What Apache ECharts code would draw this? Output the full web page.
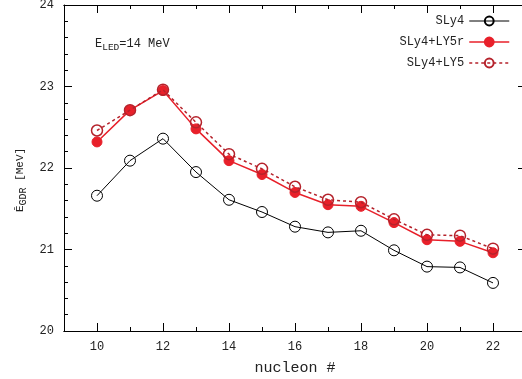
<!DOCTYPE html>
<html>
<head>
<meta charset="utf-8">
<script src="https://cdn.jsdelivr.net/npm/echarts@6/dist/echarts.min.js"></script>
<style>html,body{margin:0;padding:0;background:#fff;}#c{width:522px;height:379px;}</style>
</head>
<body>
<div id="c"></div>
<script>
var nucleons = [10, 11, 12, 13, 14, 15, 16, 17, 18, 19, 20, 21, 22];
var sly4     = [21.66, 22.09, 22.36, 21.95, 21.61, 21.46, 21.28, 21.21, 21.23, 20.99, 20.79, 20.78, 20.59];
var sly4ly5r = [22.32, 22.71, 22.95, 22.48, 22.09, 21.92, 21.70, 21.55, 21.53, 21.33, 21.12, 21.10, 20.96];
var sly4ly5  = [22.46, 22.71, 22.96, 22.56, 22.17, 21.99, 21.77, 21.61, 21.58, 21.37, 21.18, 21.17, 21.01];
var xTickLabels = [10, 12, 14, 16, 18, 20, 22];
var seriesNames = ['SLy4', 'SLy4+LY5r', 'SLy4+LY5'];

function pairs(arr){ return nucleons.map(function(x,i){ return [x, arr[i]]; }); }

var FONT = '"Liberation Mono", "DejaVu Sans Mono", monospace';
var chart = echarts.init(document.getElementById('c'), null, {renderer: 'canvas'});

function xAx(pos, major, withLabel) {
  var a = {
    type: 'value', min: 9, max: 23, interval: 1, position: pos,
    axisLine: {show: true, onZero: false, lineStyle: {color: '#000', width: 1}},
    splitLine: {show: false},
    axisTick: {show: true, inside: true, length: major ? 8 : 4, lineStyle: {color: '#000'}},
    axisLabel: {show: false}
  };
  if (major) {
    a.axisTick.customValues = xTickLabels;
  }
  if (withLabel) {
    a.axisLabel = {show: true, customValues: xTickLabels, color: '#222', fontFamily: FONT, fontSize: 12, margin: 10};
    a.name = 'nucleon #';
    a.nameLocation = 'middle';
    a.nameGap = 30;
    a.nameTextStyle = {color: '#222', fontFamily: FONT, fontSize: 15};
  }
  return a;
}
function yAx(pos, withLabel) {
  return {
    type: 'value', min: 20, max: 24, interval: 1, position: pos,
    axisLine: {show: true, onZero: false, lineStyle: {color: '#000', width: 1}},
    splitLine: {show: false},
    axisTick: {show: true, inside: true, length: 8, lineStyle: {color: '#000'}},
    minorTick: {show: true, splitNumber: 5, length: 4, lineStyle: {color: '#000'}},
    axisLabel: withLabel ? {color: '#222', fontFamily: FONT, fontSize: 12, margin: 10} : {show: false}
  };
}

chart.setOption({
  animation: false,
  backgroundColor: '#fff',
  grid: {left: 64, top: 5, width: 462, height: 326, containLabel: false, outerBoundsMode: 'none'},
  xAxis: [xAx('bottom', false, true), xAx('bottom', true, false), xAx('top', false, false), xAx('top', true, false)],
  yAxis: [yAx('left', true), yAx('right', false)],
  legend: {
    data: [
      {name: 'SLy4', lineStyle: {width: 1}},
      {name: 'SLy4+LY5r', lineStyle: {width: 1.5}},
      {name: 'SLy4+LY5', lineStyle: {width: 1.5}}
    ],
    orient: 'vertical',
    right: 7, top: 10,
    align: 'right',
    itemGap: 9,
    itemWidth: 40, itemHeight: 11,
    textStyle: {fontFamily: FONT, fontSize: 12, color: '#222'}
  },
  graphic: [
    {
      type: 'text', left: 95, top: 38,
      style: {
        rich: {
          b: {fontFamily: FONT, fontSize: 12, fill: '#222'},
          s: {fontFamily: FONT, fontSize: 9.5, fill: '#222', padding: [7, 0, 0, 0]}
        },
        text: '{b|E}{s|LED}{b|=14 MeV}'
      }
    },
    {
      type: 'text', x: 20, y: 180, rotation: Math.PI / 2,
      style: {
        rich: {
          b: {fontFamily: FONT, fontSize: 11, fill: '#222'},
          s: {fontFamily: FONT, fontSize: 10, fill: '#222', padding: [7, 0, 0, 0]}
        },
        text: '{b|\u0112}{s|GDR}{b| [MeV]}',
        align: 'center', verticalAlign: 'middle'
      }
    }
  ],
  series: [
    {
      name: 'SLy4', type: 'line', data: pairs(sly4),
      symbol: 'circle', symbolSize: 11,
      lineStyle: {color: '#000', width: 1},
      itemStyle: {color: 'rgba(255,255,255,0)', borderColor: '#000', borderWidth: 1},
      z: 2
    },
    {
      name: 'SLy4+LY5r', type: 'line', data: pairs(sly4ly5r),
      symbol: 'circle', symbolSize: 10,
      lineStyle: {color: '#e8202a', width: 1.5},
      itemStyle: {color: '#e8202a', borderColor: '#e8202a', borderWidth: 1},
      z: 3
    },
    {
      name: 'SLy4+LY5', type: 'line', data: pairs(sly4ly5),
      symbol: 'circle', symbolSize: 11,
      lineStyle: {color: '#b5222b', width: 1.5, type: [3, 3]},
      itemStyle: {color: 'rgba(255,255,255,0)', borderColor: '#b5222b', borderWidth: 1.5},
      z: 4
    }
  ]
});
</script>
</body>
</html>
